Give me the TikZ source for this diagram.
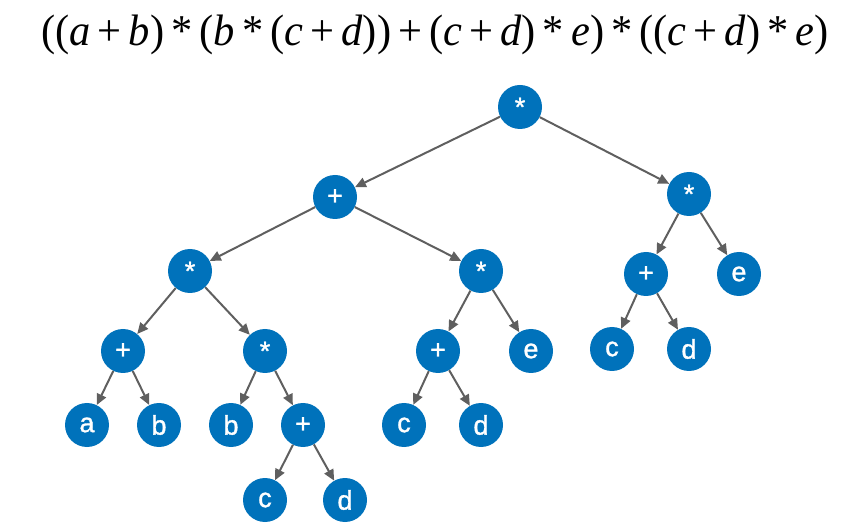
\documentclass[tikz,border=0pt]{standalone}
\usepackage{fontspec}
\setmainfont{Liberation Serif}
\newfontfamily\nodefont[FakeBold=1.2]{Liberation Sans}
\usetikzlibrary{arrows.meta}
\definecolor{nodeblue}{RGB}{0,114,187}
\definecolor{edgegray}{RGB}{95,95,95}
\tikzset{
  tnode/.style={circle,fill=nodeblue,draw=none,minimum size=44pt,inner sep=0pt,
    text=white,font=\nodefont\fontsize{27}{27}\selectfont},
  tedge/.style={draw=edgegray,line width=2pt,-{Triangle[length=11pt,width=10pt]}}
}
\newcommand{\mv}[1]{\textit{#1}}
\begin{document}
\begin{tikzpicture}[x=1pt,y=-1pt]
\useasboundingbox (0,0) rectangle (868,529);
\node (title) at (435,35) {\scalebox{0.965}[1]{\fontsize{44}{44}\selectfont ((\mv{a}\,+\,\mv{b})\,*\,(\mv{b}\,*\,(\mv{c}\,+\,\mv{d}))\,+\,(\mv{c}\,+\,\mv{d})\,*\,\mv{e})\,*\,((\mv{c}\,+\,\mv{d})\,*\,\mv{e})}};
% nodes
\node[tnode] (r)   at (520,107) {*};
\node[tnode] (p1)  at (335,197) {+};
\node[tnode] (m2)  at (689,194) {*};
\node[tnode] (m3)  at (190,271) {*};
\node[tnode] (m4)  at (481,271) {*};
\node[tnode] (p5)  at (646,274) {+};
\node[tnode] (e1)  at (739,274) {e};
\node[tnode] (p6)  at (123,351) {+};
\node[tnode] (m7)  at (265,351) {*};
\node[tnode] (p8)  at (438,351) {+};
\node[tnode] (e2)  at (531,351) {e};
\node[tnode] (c1)  at (612,349) {c};
\node[tnode] (d1)  at (689,349) {d};
\node[tnode] (a)   at (87,425) {a};
\node[tnode] (b1)  at (159,425) {b};
\node[tnode] (b2)  at (231,425) {b};
\node[tnode] (p9)  at (303,425) {+};
\node[tnode] (c2)  at (404,425) {c};
\node[tnode] (d2)  at (481,425) {d};
\node[tnode] (c3)  at (265,500) {c};
\node[tnode] (d3)  at (345,500) {d};
% edges
\draw[tedge] (r) -- (p1);
\draw[tedge] (r) -- (m2);
\draw[tedge] (p1) -- (m3);
\draw[tedge] (p1) -- (m4);
\draw[tedge] (m2) -- (p5);
\draw[tedge] (m2) -- (e1);
\draw[tedge] (m3) -- (p6);
\draw[tedge] (m3) -- (m7);
\draw[tedge] (m4) -- (p8);
\draw[tedge] (m4) -- (e2);
\draw[tedge] (p5) -- (c1);
\draw[tedge] (p5) -- (d1);
\draw[tedge] (p6) -- (a);
\draw[tedge] (p6) -- (b1);
\draw[tedge] (m7) -- (b2);
\draw[tedge] (m7) -- (p9);
\draw[tedge] (p8) -- (c2);
\draw[tedge] (p8) -- (d2);
\draw[tedge] (p9) -- (c3);
\draw[tedge] (p9) -- (d3);
\end{tikzpicture}
\end{document}
